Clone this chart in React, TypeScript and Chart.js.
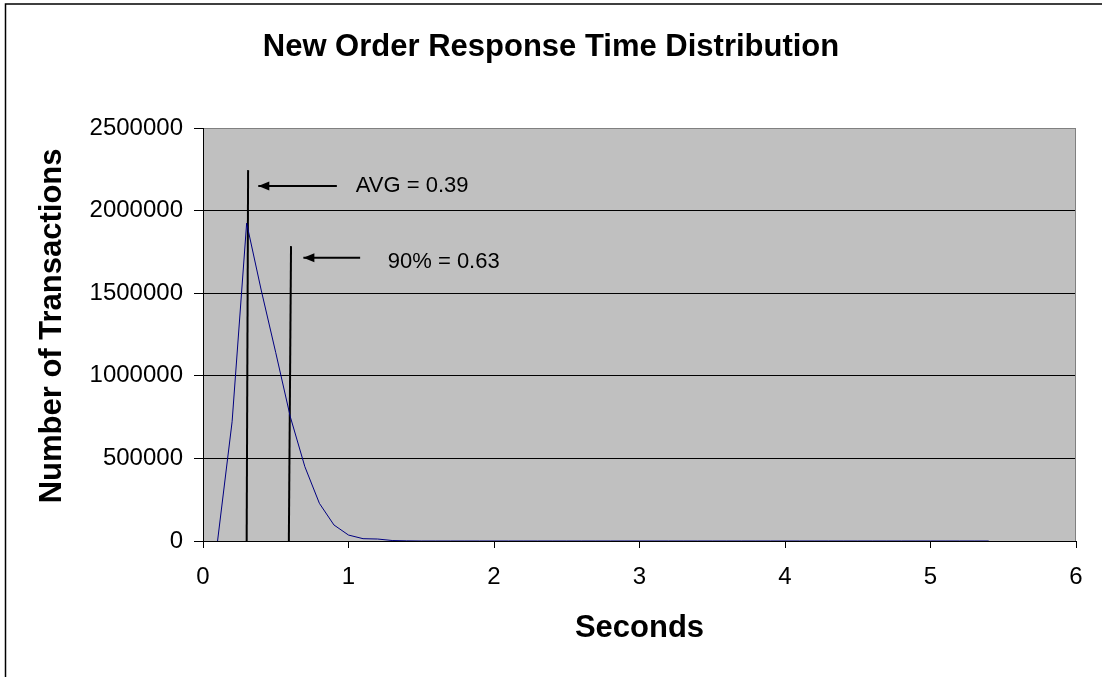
import React, { useEffect, useRef } from 'react';
import { Chart, registerables } from 'chart.js';

Chart.register(...registerables);

// ---- data ----
const seconds = [
  0.1, 0.2, 0.3, 0.4, 0.5, 0.6, 0.7, 0.8, 0.9, 1.0,
  1.1, 1.2, 1.3, 1.4, 1.5, 1.6, 1.7, 1.8, 1.9, 2.0,
  2.1, 2.2, 2.3, 2.4, 2.5, 2.6, 2.7, 2.8, 2.9, 3.0,
  3.1, 3.2, 3.3, 3.4, 3.5, 3.6, 3.7, 3.8, 3.9, 4.0,
  4.1, 4.2, 4.3, 4.4, 4.5, 4.6, 4.7, 4.8, 4.9, 5.0,
  5.1, 5.2, 5.3, 5.4,
];
const transactions = [
  0, 722000, 1924000, 1519000, 1140000, 752000, 450000, 228000, 97000, 36000,
  14000, 12000, 3000, 1000, 0, 0, 0, 0, 0, 0,
  0, 0, 0, 0, 0, 0, 0, 0, 0, 0,
  0, 0, 0, 0, 0, 0, 0, 0, 0, 0,
  0, 0, 0, 0, 0, 0, 0, 0, 0, 0,
  0, 0, 0, 0,
];

const avgLineX = [0.3, 0.31];
const avgLineY = [0, 2245000];
const p90LineX = [0.59, 0.605];
const p90LineY = [0, 1785000];

const avgArrowX = [0.92, 0.38];
const avgArrowY = [2149000, 2149000];
const p90ArrowX = [1.08, 0.69];
const p90ArrowY = [1715000, 1715000];

const noteTexts = ['AVG = 0.39', '90% = 0.63'];
const noteX = [1.05, 1.27];
const noteY = [2149000, 1689000];

const chartTitle = 'New Order Response Time Distribution';
const xTitle = 'Seconds';
const yTitle = 'Number of Transactions';

const FONT = "'Liberation Sans', Arial, sans-serif";

const pts = (xs: number[], ys: number[]) => xs.map((x, i) => ({ x, y: ys[i] }));

const decorPlugin = {
  id: 'decor',
  beforeDraw(chart: any) {
    const { ctx, chartArea } = chart;
    ctx.save();
    ctx.fillStyle = '#ffffff';
    ctx.fillRect(0, 0, chart.width, chart.height);
    ctx.fillStyle = '#c0c0c0';
    ctx.fillRect(chartArea.left, chartArea.top, chartArea.right - chartArea.left, chartArea.bottom - chartArea.top);
    // outer frame
    ctx.strokeStyle = '#000';
    ctx.lineWidth = 1.5;
    ctx.strokeRect(5.5, 4, chart.width + 50, chart.height + 50);
    ctx.restore();
  },
  beforeDatasetsDraw(chart: any) {
    const { ctx, chartArea } = chart;
    ctx.save();
    ctx.strokeStyle = '#808080';
    ctx.lineWidth = 1;
    ctx.beginPath();
    ctx.moveTo(chartArea.right - 0.5, chartArea.top);
    ctx.lineTo(chartArea.right - 0.5, chartArea.bottom);
    ctx.stroke();
    ctx.restore();
  },
  afterDatasetsDraw(chart: any) {
    const { ctx, scales } = chart;
    const xs = scales.x;
    const ys = scales.y;
    ctx.save();
    // arrow heads
    const heads = [
      [avgArrowX, avgArrowY],
      [p90ArrowX, p90ArrowY],
    ];
    ctx.fillStyle = '#000';
    heads.forEach(([ax, ay]) => {
      const x0 = xs.getPixelForValue(ax[0]);
      const y0 = ys.getPixelForValue(ay[0]);
      const x1 = xs.getPixelForValue(ax[1]);
      const y1 = ys.getPixelForValue(ay[1]);
      const ang = Math.atan2(y1 - y0, x1 - x0);
      const len = 11;
      const half = 4.5;
      ctx.beginPath();
      ctx.moveTo(x1, y1);
      ctx.lineTo(x1 - len * Math.cos(ang) + half * Math.sin(ang), y1 - len * Math.sin(ang) - half * Math.cos(ang));
      ctx.lineTo(x1 - len * Math.cos(ang) - half * Math.sin(ang), y1 - len * Math.sin(ang) + half * Math.cos(ang));
      ctx.closePath();
      ctx.fill();
    });
    // notes
    ctx.font = `22px ${FONT}`;
    ctx.textAlign = 'left';
    ctx.textBaseline = 'middle';
    noteTexts.forEach((t, i) => {
      ctx.fillText(t, xs.getPixelForValue(noteX[i]), ys.getPixelForValue(noteY[i]));
    });
    ctx.restore();
  },
};

export default function App() {
  const ref = useRef<HTMLCanvasElement | null>(null);

  useEffect(() => {
    if (!ref.current) return;
    document.body.style.margin = '0';
    const chart = new Chart(ref.current, {
      type: 'line',
      data: {
        datasets: [
          {
            data: pts(seconds, transactions),
            borderColor: '#000080',
            borderWidth: 1,
            pointRadius: 0,
            tension: 0,
          },
          {
            data: pts(avgLineX, avgLineY),
            borderColor: '#000',
            borderWidth: 2,
            pointRadius: 0,
          },
          {
            data: pts(p90LineX, p90LineY),
            borderColor: '#000',
            borderWidth: 2,
            pointRadius: 0,
          },
          {
            data: pts(avgArrowX, avgArrowY),
            borderColor: '#000',
            borderWidth: 2,
            pointRadius: 0,
          },
          {
            data: pts(p90ArrowX, p90ArrowY),
            borderColor: '#000',
            borderWidth: 2,
            pointRadius: 0,
          },
        ],
      },
      options: {
        responsive: false,
        animation: false,
        parsing: true,
        layout: { padding: { left: 0, right: 0, top: 0, bottom: 0 } },
        plugins: {
          legend: { display: false },
          tooltip: { enabled: false },
          title: {
            display: true,
            text: chartTitle,
            color: '#000',
            font: { family: FONT, size: 31, weight: 'bold', lineHeight: 1.2 },
            padding: { top: 29, bottom: 61.8 },
          },
        },
        scales: {
          x: {
            type: 'linear',
            min: 0,
            max: 6,
            afterFit: (s: any) => { s.height = 136; },
            ticks: {
              stepSize: 1,
              color: '#000',
              font: { family: FONT, size: 24 },
              padding: 15,
              maxRotation: 0,
            },
            grid: {
              drawOnChartArea: false,
              drawTicks: true,
              tickLength: 7,
              tickColor: '#000',
            },
            border: { color: '#000', width: 1 },
            title: {
              display: true,
              text: xTitle,
              color: '#000',
              font: { family: FONT, size: 31, weight: 'bold', lineHeight: 1.2 },
              padding: { top: 0, bottom: 30 },
            },
          },
          y: {
            type: 'linear',
            min: 0,
            max: 2500000,
            afterFit: (s: any) => { s.width = 203; },
            ticks: {
              stepSize: 500000,
              color: '#000',
              font: { family: FONT, size: 24 },
              padding: 11,
              callback: (v: any) => String(v),
            },
            grid: {
              color: (c: any) => (c.tick && c.tick.value === 2500000 ? '#808080' : '#000'),
              lineWidth: 1,
              drawTicks: true,
              tickLength: 9,
              tickColor: '#000',
            },
            border: { color: '#000', width: 1 },
            title: {
              display: true,
              text: '  ' + yTitle,
              color: '#000',
              font: { family: FONT, size: 31, weight: 'bold', lineHeight: 1.2 },
              padding: { top: 34, bottom: 0 },
            },
          },
          rightGap: {
            type: 'linear',
            position: 'right',
            afterFit: (s: any) => { s.width = 26; },
            ticks: { display: false },
            grid: { display: false },
            border: { display: false },
          },
        },
      },
      plugins: [decorPlugin],
    });
    return () => chart.destroy();
  }, []);

  return (
    <div style={{ position: 'absolute', left: 0, top: 0, width: 1102, height: 677 }}>
      <canvas ref={ref} width={1102} height={677} style={{ display: 'block' }} />
    </div>
  );
}
